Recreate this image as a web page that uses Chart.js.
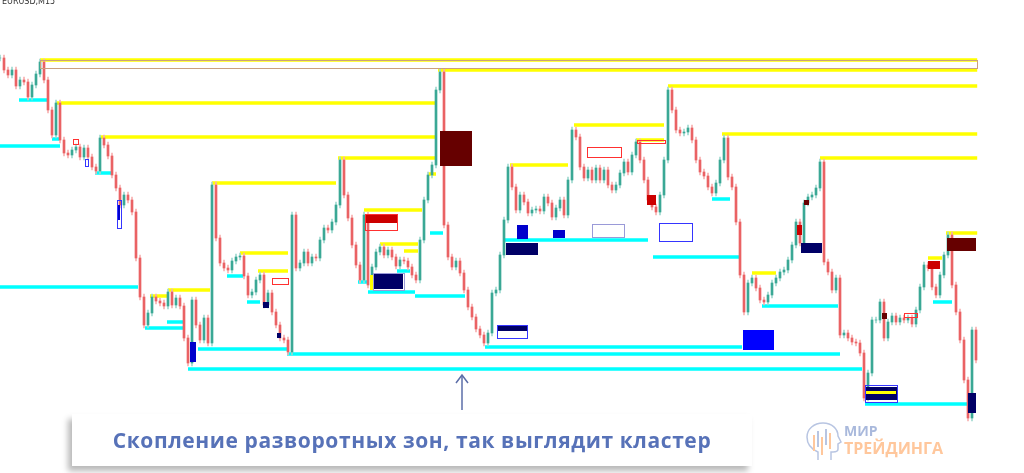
<!DOCTYPE html>
<html lang="ru">
<head>
<meta charset="utf-8">
<title>EURUSD M15 — кластер разворотных зон</title>
<script src="https://cdn.jsdelivr.net/npm/chart.js@4.4.1/dist/chart.umd.min.js"></script>
<style>
  html, body { margin: 0; padding: 0; background: #fff; }
  .wrap { position: relative; width: 1024px; height: 473px; overflow: hidden; }
  #chart { position: absolute; left: 0; top: 0; }
  .symbol { position: absolute; left: 2px; top: -3px; font: 8px "DejaVu Sans", sans-serif; color: #333; }
  .caption {
    position: absolute; left: 72px; top: 414px; width: 680px; height: 52px;
    background: #fff; box-shadow: -4px 5px 6px rgba(0,0,0,0.28);
    display: flex; align-items: center; justify-content: center;
    color: #5772b8; font: 700 21px "Open Sans", sans-serif; letter-spacing: 0.6px;
  }
  .logo-text { position: absolute; left: 844px; font-family: "Open Sans", sans-serif; font-weight: 700; line-height: 1; }
  .logo-top { top: 424px; font-size: 14px; color: #a9b9dc; }
  .logo-bottom { top: 440px; font-size: 16px; color: #ffc79c; }
  svg { position: absolute; left: 0; top: 0; }
</style>
</head>
<body>
<div class="wrap">
  <canvas id="chart" width="1024" height="473"></canvas>
  <div class="symbol">EURUSD,M15</div>
  <svg width="1024" height="473">
    <!-- arrow to the cluster -->
    <line x1="462" y1="410" x2="462" y2="375" stroke="#5b6ea8" stroke-width="1.5"/>
    <polyline points="456,383 462,375 468,383" fill="none" stroke="#5b6ea8" stroke-width="1.5"/>
    <!-- logo head -->
    <g transform="translate(805,421)" fill="none" stroke-width="1.5">
      <path d="M13 39 L13 31 C6 28 2 23 2 16 C2 8 9 2 18 2 C27 2 33 8 33 15 L36 21 L33 23 L33 28 C33 30 31 31 28 31 L26 31 L26 39" stroke="#b8c5e2"/>
      <line x1="9" y1="14" x2="9" y2="30" stroke="#ffc79c" stroke-width="2"/>
      <line x1="13" y1="10" x2="13" y2="26" stroke="#b8c5e2" stroke-width="2"/>
      <line x1="17" y1="16" x2="17" y2="34" stroke="#ffc79c" stroke-width="2"/>
      <line x1="21" y1="8" x2="21" y2="24" stroke="#b8c5e2" stroke-width="2"/>
      <line x1="25" y1="12" x2="25" y2="28" stroke="#ffc79c" stroke-width="2"/>
    </g>
  </svg>
  <div class="caption">Скопление разворотных зон, так выглядит кластер</div>
  <div class="logo-text logo-top">МИР</div>
  <div class="logo-text logo-bottom">ТРЕЙДИНГА</div>
</div>

<script>
// closes, one per M15 bar, in chart rows (0 = top of the chart, bigger = lower price)
const closes = [
  58, 70, 75, 70, 86, 80, 82, 97, 85, 74,
  62, 80, 110, 135, 103, 140, 153, 155, 150, 147,
  157, 148, 157, 167, 171, 138, 145, 156, 175, 188,
  205, 195, 200, 212, 258, 297, 325, 313, 297, 301,
  303, 306, 292, 305, 298, 306, 338, 363, 300, 325,
  340, 318, 343, 185, 238, 263, 268, 270, 261, 257,
  256, 276, 295, 292, 280, 275, 305, 293, 312, 325,
  338, 340, 352, 215, 268, 263, 252, 263, 257, 258,
  240, 228, 230, 222, 205, 160, 195, 218, 245, 265,
  280, 215, 285, 267, 252, 247, 255, 250, 257, 266,
  260, 261, 267, 275, 280, 240, 200, 175, 165, 90,
  72, 225, 257, 267, 261, 273, 290, 307, 317, 329,
  335, 343, 333, 293, 290, 255, 220, 167, 187, 210,
  195, 202, 213, 210, 209, 211, 197, 203, 217, 208,
  200, 215, 180, 130, 137, 167, 178, 170, 180, 168,
  180, 170, 185, 190, 185, 173, 162, 172, 155, 142,
  160, 180, 200, 207, 212, 195, 160, 90, 110, 130,
  133, 132, 128, 140, 160, 172, 176, 187, 193, 183,
  160, 138, 177, 187, 222, 275, 312, 283, 278, 288,
  300, 302, 295, 283, 278, 272, 270, 260, 245, 222,
  243, 203, 197, 195, 188, 162, 262, 272, 290, 278,
  335, 333, 338, 342, 343, 353, 398, 373, 320, 320,
  302, 338, 322, 316, 322, 318, 320, 318, 324, 310,
  287, 265, 268, 287, 295, 275, 255, 235, 285, 312,
  340, 380, 418, 330, 360
];

// resistance levels: [from bar, to bar, level]
const yellowLevels = [
  [10, 244.3, 60], [109.5, 244.3, 70], [14, 109, 103], [25, 109, 137],
  [167, 244.3, 86], [180.5, 244.3, 134], [205, 244.3, 158], [53, 84, 183],
  [84.5, 109, 158], [143.5, 166, 125], [127.5, 142, 165], [159, 166, 140],
  [107, 109, 174], [91, 105.5, 210], [60, 72, 253], [64.5, 72, 271],
  [95, 104.5, 244], [101, 104.5, 251], [37.5, 42, 296], [42, 52.5, 290],
  [188, 194, 273], [232, 235.5, 258], [236.5, 244.3, 233]
];

// support levels: [from bar, to bar, level]
const cyanLevels = [
  [4.75, 11.75, 100], [0, 15, 146], [13, 15, 139], [23.75, 28, 173],
  [0, 34.5, 287], [36.25, 45.75, 328], [41.75, 45.75, 322], [47, 215.5, 369],
  [49.5, 71.75, 349], [71.75, 210, 354], [121.25, 185.5, 347], [56.75, 60.75, 276],
  [61.75, 65, 302], [92, 103.75, 292], [89.5, 91.75, 282], [99.25, 102.5, 271],
  [103.75, 116.25, 296], [107.5, 110.75, 233], [126.25, 162, 240], [163.25, 185, 257],
  [178, 182.5, 199], [190.5, 209.5, 306], [216.25, 241.75, 404], [233.25, 238, 302]
];

// filled reversal zones: [from bar, to bar, top, bottom, kind]
const zones = [
  [110, 118, 131, 166, 'maroon'], [236.75, 244, 238, 251, 'maroon'],
  [91.25, 99.25, 214, 223, 'red'], [93.5, 100.75, 274, 289, 'navy'],
  [92.5, 93.5, 275, 290, 'yellow'],
  [65.75, 67.25, 302, 308, 'navy'], [126.5, 134.5, 243, 255, 'navy'],
  [124.25, 131.75, 325, 331, 'navy'], [129.25, 132, 225, 239, 'blue'],
  [138.25, 141.25, 230, 238, 'blue'], [185.75, 193.5, 330, 350, 'bright'],
  [47.5, 49, 342, 362, 'blue'], [200.25, 205.5, 243, 253, 'navy'],
  [216.25, 224.25, 387, 400, 'navy'], [216.5, 224, 391, 394, 'yellow'],
  [242, 244, 393, 413, 'navy'], [161.75, 164, 195, 205, 'red'],
  [232, 235, 261, 269, 'red'], [199.25, 200.5, 225, 235, 'red'],
  [220.5, 221.75, 313, 319, 'maroon'], [29.25, 30, 205, 220, 'blue'],
  [69.25, 70.25, 333, 338, 'navy'], [201, 202.25, 200, 205, 'maroon']
];

// outlined zones: [from bar, to bar, top, bottom, kind]
const outlines = [
  [91.25, 99.25, 214, 230, 'red'], [68, 72, 278, 284, 'red'],
  [148, 156, 224, 237, 'lilac'], [164.75, 173, 223, 241, 'blue'],
  [146.75, 155.25, 147, 157, 'red'], [226, 229.25, 313, 317, 'red'],
  [124.25, 131.75, 325, 338, 'blue'], [29.25, 30.25, 200, 228, 'blue'],
  [216.25, 224.25, 385, 402, 'blue'], [10, 244.3, 60, 68, 'tan'],
  [159.25, 166.25, 140, 143, 'red'], [93.25, 101, 273, 290, 'lilac'],
  [18.25, 19.5, 139, 144, 'red'], [21.25, 22, 159, 166, 'blue']
];

const zoneColors = {
  maroon: '#660000', red: '#cc0000', navy: '#000066', blue: '#0000cc',
  bright: '#0000ff', yellow: '#ffff00', lilac: '#8c8cd0', tan: '#c9a080'
};
const outlineColors = { red: '#ff3030', blue: '#3535ff', lilac: '#9a9ad8', tan: '#c9a080' };

const wickPad = 3;

const bodies = closes.map((c, i) => ({ x: i, y: [i ? closes[i - 1] : c, c] }));
const wicks = bodies.map(b => ({
  x: b.x,
  y: [Math.min(b.y[0], b.y[1]) - wickPad, Math.max(b.y[0], b.y[1]) + wickPad]
}));
const isUp = bodies.map(b => b.y[1] <= b.y[0]);

function levelPoints(levels) {
  const pts = [];
  levels.forEach(([from, to, lvl]) => {
    pts.push({ x: from, y: lvl }, { x: to, y: lvl }, { x: to, y: null });
  });
  return pts;
}

const zonesPlugin = {
  id: 'zones',
  afterDatasetsDraw(chart) {
    const { ctx, scales: { x, y } } = chart;
    ctx.save();
    zones.forEach(([from, to, top, bottom, kind]) => {
      const x0 = x.getPixelForValue(from), x1 = x.getPixelForValue(to);
      const y0 = y.getPixelForValue(top), y1 = y.getPixelForValue(bottom);
      ctx.fillStyle = zoneColors[kind];
      ctx.fillRect(x0, y0, x1 - x0, y1 - y0);
    });
    ctx.lineWidth = 1;
    outlines.forEach(([from, to, top, bottom, kind]) => {
      const x0 = Math.round(x.getPixelForValue(from)) + 0.5;
      const x1 = Math.round(x.getPixelForValue(to)) + 0.5;
      const y0 = Math.round(y.getPixelForValue(top)) + 0.5;
      const y1 = Math.round(y.getPixelForValue(bottom)) + 0.5;
      ctx.strokeStyle = outlineColors[kind];
      ctx.strokeRect(x0, y0, x1 - x0, y1 - y0);
    });
    ctx.restore();
  }
};

const ctx = document.getElementById('chart').getContext('2d');
const chart = new Chart(ctx, {
  type: 'bar',
  data: {
    datasets: [
      {
        type: 'line',
        label: 'Сопротивление',
        data: levelPoints(yellowLevels),
        borderColor: '#ffff00',
        borderWidth: 3.5,
        pointRadius: 0,
        spanGaps: false,
        order: 5
      },
      {
        type: 'line',
        label: 'Поддержка',
        data: levelPoints(cyanLevels),
        borderColor: '#00ffff',
        borderWidth: 3.5,
        pointRadius: 0,
        spanGaps: false,
        order: 4
      },
      {
        label: 'Тени',
        data: wicks,
        backgroundColor: isUp.map(u => u ? '#9fd9cf' : '#f7b0b0'),
        barThickness: 1,
        grouped: false,
        order: 2
      },
      {
        label: 'EURUSD',
        data: bodies,
        backgroundColor: isUp.map(u => u ? '#3aa895' : '#ea6264'),
        barThickness: 2,
        grouped: false,
        order: 1
      }
    ]
  },
  options: {
    responsive: false,
    devicePixelRatio: 1,
    animation: false,
    layout: { padding: 0 },
    plugins: { legend: { display: false }, tooltip: { enabled: false } },
    scales: {
      x: { type: 'linear', min: 0, max: 256, offset: false, display: false },
      y: { min: 0, max: 473, reverse: true, display: false }
    }
  },
  plugins: [zonesPlugin]
});
</script>
</body>
</html>
